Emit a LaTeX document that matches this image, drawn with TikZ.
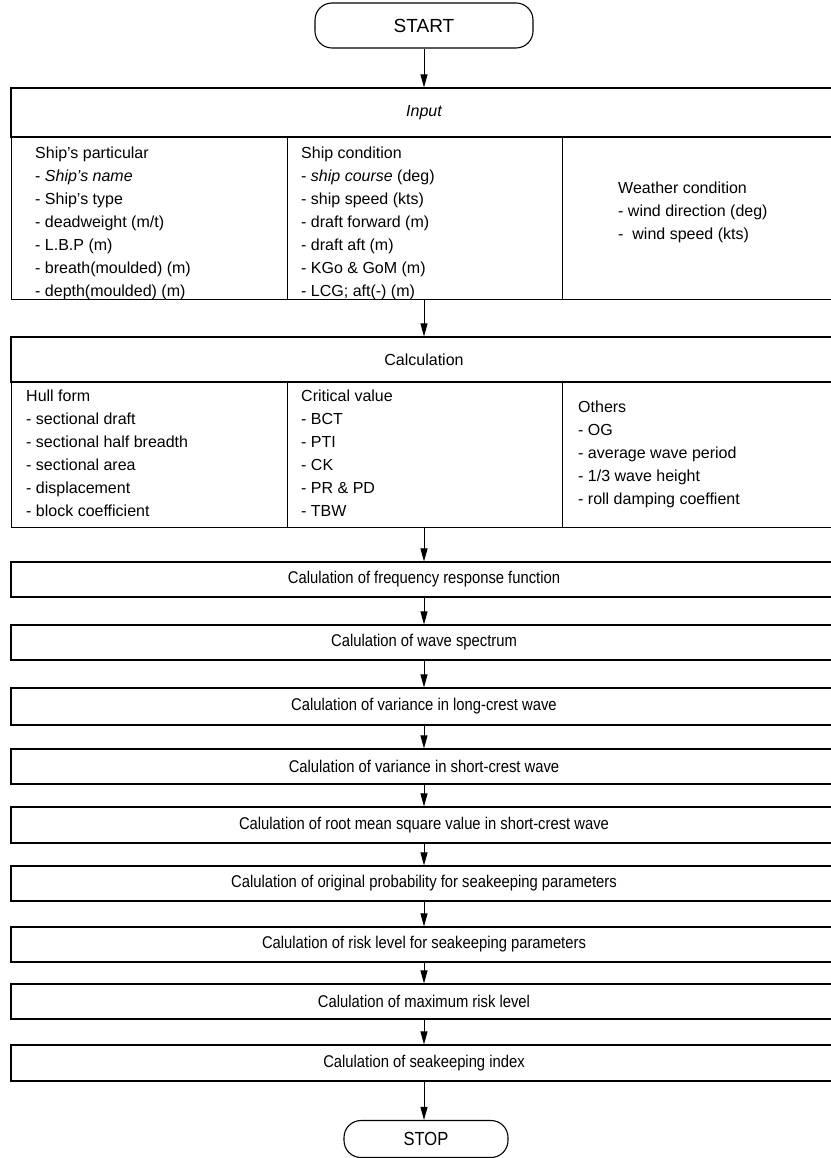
\documentclass[tikz,border=0pt]{standalone}
\usepackage{fontspec}
\setmainfont{Liberation Sans}
\newfontfamily\narrowfont[FakeStretch=0.87]{Liberation Sans}
\usetikzlibrary{arrows.meta}
\begin{document}
\begin{tikzpicture}[x=1pt,y=-1pt,
  frame/.style={draw, line width=1.1pt, inner sep=0pt, minimum width=821pt},
  col/.style={draw, line width=1.1pt, inner sep=0pt, anchor=north west},
  txt/.style={font=\fontsize{16}{23}\selectfont, align=left, inner sep=0pt, anchor=north west},
  ttl/.style={font=\fontsize{16}{19}\selectfont, inner sep=0pt},
  steptxt/.style={font=\narrowfont\fontsize{17}{20}\selectfont, inner sep=0pt},
  stepbox/.style={frame, minimum height=35pt},
  term/.style={draw, line width=1.1pt, rounded corners=17pt, inner sep=0pt},
  arr/.style={-{Triangle[length=13pt,width=7pt]}, line width=1pt}
]
\useasboundingbox (0,0) rectangle (830,1158);

% START
\node[term, minimum width=218pt, minimum height=45pt, font=\fontsize{19}{22}\selectfont] (start) at (424,25.5) {START};

% Input block
\node[frame, minimum height=49pt] (intitle) at (421.5,112.5) {};
\node[ttl] (intitletxt) at (424,112.5) {\itshape Input};
\node[col, minimum width=276pt, minimum height=162pt] (in1) at (11,137) {};
\node[col, minimum width=275pt, minimum height=162pt] (in2) at (287,137) {};
\node[col, minimum width=270pt, minimum height=162pt] (in3) at (562,137) {};
\node[txt] (in1t) at (35,147) {Ship's particular\\- \textit{Ship's name}\\- Ship's type\\- deadweight (m/t)\\- L.B.P (m)\\- breath(moulded) (m)\\- depth(moulded) (m)};
\node[txt] (in2t) at (301,147) {Ship condition\\- \textit{ship course} (deg)\\- ship speed (kts)\\- draft forward (m)\\- draft aft (m)\\- KGo \& GoM (m)\\- LCG; aft(-) (m)};
\node[txt] (in3t) at (618,182) {Weather condition\\- wind direction (deg)\\- \ wind speed (kts)};

% Calculation block
\node[frame, minimum height=45pt] (ctitle) at (421.5,359.5) {};
\node[ttl] (ctitletxt) at (424,359.5) {Calculation};
\node[col, minimum width=276pt, minimum height=145pt] (c1) at (11,382) {};
\node[col, minimum width=275pt, minimum height=145pt] (c2) at (287,382) {};
\node[col, minimum width=270pt, minimum height=145pt] (c3) at (562,382) {};
\node[txt] (c1t) at (26,389.5) {Hull form\\- sectional draft\\- sectional half breadth\\- sectional area\\- displacement\\- block coefficient};
\node[txt] (c2t) at (301,389.5) {Critical value\\- BCT\\- PTI\\- CK\\- PR \& PD\\- TBW};
\node[txt] (c3t) at (578,401) {Others\\- OG\\- average wave period\\- 1/3 wave height\\- roll damping coeffient};

% Step boxes
\node[stepbox] (s1) at (421.5,579.5) {};
\node[steptxt] at (424,579.5) {Calulation of frequency response function};
\node[stepbox] (s2) at (421.5,642.5) {};
\node[steptxt] at (424,642.5) {Calulation of wave spectrum};
\node[stepbox, minimum height=37pt] (s3) at (421.5,706.5) {};
\node[steptxt] at (424,706.5) {Calulation of variance in long-crest wave};
\node[stepbox] (s4) at (421.5,766.5) {};
\node[steptxt] at (424,766.5) {Calulation of variance in short-crest wave};
\node[stepbox, minimum height=36pt] (s5) at (421.5,825) {};
\node[steptxt] at (424,825) {Calulation of root mean square value in short-crest wave};
\node[stepbox] (s6) at (421.5,883.5) {};
\node[steptxt] at (424,883.5) {Calulation of original probability for seakeeping parameters};
\node[stepbox] (s7) at (421.5,944.5) {};
\node[steptxt] at (424,944.5) {Calulation of risk level for seakeeping parameters};
\node[stepbox] (s8) at (421.5,1001.5) {};
\node[steptxt] at (424,1001.5) {Calulation of maximum risk level};
\node[stepbox, minimum height=36pt] (s9) at (421.5,1063) {};
\node[steptxt] at (424,1063) {Calulation of seakeeping index};

% STOP
\node[term, minimum width=164pt, minimum height=37pt, font=\narrowfont\fontsize{19}{22}\selectfont] (stop) at (426,1139) {STOP};

% Arrows
\draw[arr] (start.south) -- (start.south |- intitle.north);
\draw[arr] (start.south |- in2.south) -- (start.south |- ctitle.north);
\draw[arr] (start.south |- c2.south) -- (start.south |- s1.north);
\draw[arr] (start.south |- s1.south) -- (start.south |- s2.north);
\draw[arr] (start.south |- s2.south) -- (start.south |- s3.north);
\draw[arr] (start.south |- s3.south) -- (start.south |- s4.north);
\draw[arr] (start.south |- s4.south) -- (start.south |- s5.north);
\draw[arr] (start.south |- s5.south) -- (start.south |- s6.north);
\draw[arr] (start.south |- s6.south) -- (start.south |- s7.north);
\draw[arr] (start.south |- s7.south) -- (start.south |- s8.north);
\draw[arr] (start.south |- s8.south) -- (start.south |- s9.north);
\draw[arr] (start.south |- s9.south) -- (stop.north -| start.south);
\end{tikzpicture}
\end{document}
